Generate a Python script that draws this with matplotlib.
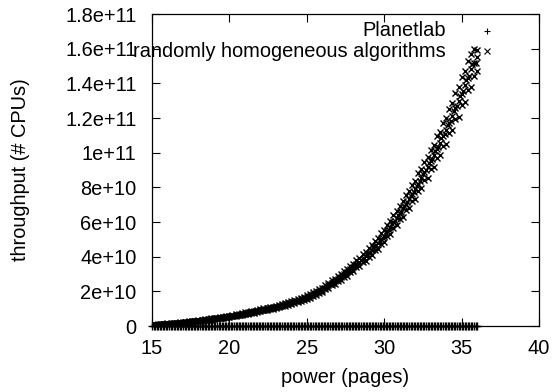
import matplotlib
matplotlib.use("Agg")
import matplotlib.pyplot as plt
from matplotlib.ticker import FuncFormatter

# data (throughput in units of 1e10)
power = [15.0, 15.2, 15.4, 15.6, 15.8, 16.0, 16.2, 16.4, 16.6, 16.8,
         17.0, 17.2, 17.4, 17.6, 17.8, 18.0, 18.2, 18.4, 18.6, 18.8,
         19.0, 19.2, 19.4, 19.6, 19.8, 20.0, 20.2, 20.4, 20.6, 20.8,
         21.0, 21.2, 21.4, 21.6, 21.8, 22.0, 22.2, 22.4, 22.6, 22.8,
         23.0, 23.2, 23.4, 23.6, 23.8, 24.0, 24.2, 24.4, 24.6, 24.8,
         25.0, 25.2, 25.4, 25.6, 25.8, 26.0, 26.2, 26.4, 26.6, 26.8,
         27.0, 27.2, 27.4, 27.6, 27.8, 28.0, 28.2, 28.4, 28.6, 28.8,
         29.0, 29.2, 29.4, 29.6, 29.8, 30.0, 30.2, 30.4, 30.6, 30.8,
         31.0, 31.2, 31.4, 31.6, 31.8, 32.0, 32.2, 32.4, 32.6, 32.8,
         33.0, 33.2, 33.4, 33.6, 33.8, 34.0, 34.2, 34.4, 34.6, 34.8,
         35.0, 35.2, 35.4, 35.6, 35.8, 36.0]

power_half = [15.1, 15.3, 15.5, 15.7, 15.9, 16.1, 16.3, 16.5, 16.7, 16.9,
              17.1, 17.3, 17.5, 17.7, 17.9, 18.1, 18.3, 18.5, 18.7, 18.9,
              19.1, 19.3, 19.5, 19.7, 19.9, 20.1, 20.3, 20.5, 20.7, 20.9,
              21.1, 21.3, 21.5, 21.7, 21.9, 22.1, 22.3, 22.5, 22.7, 22.9,
              23.1, 23.3, 23.5, 23.7, 23.9, 24.1, 24.3, 24.5, 24.7, 24.9,
              25.1, 25.3, 25.5, 25.7, 25.9, 26.1, 26.3, 26.5, 26.7, 26.9,
              27.1, 27.3, 27.5, 27.7, 27.9, 28.1, 28.3, 28.5, 28.7, 28.9,
              29.1, 29.3, 29.5, 29.7, 29.9, 30.1, 30.3, 30.5, 30.7, 30.9,
              31.1, 31.3, 31.5, 31.7, 31.9, 32.1, 32.3, 32.5, 32.7, 32.9,
              33.1, 33.3, 33.5, 33.7, 33.9, 34.1, 34.3, 34.5, 34.7, 34.9,
              35.1, 35.3, 35.5, 35.7, 35.9]

homog_mid = [0.05, 0.065, 0.08, 0.09, 0.105, 0.12, 0.135, 0.15, 0.165, 0.18,
             0.20, 0.22, 0.24, 0.26, 0.28, 0.30, 0.32, 0.35, 0.37, 0.40,
             0.42, 0.45, 0.47, 0.50, 0.52, 0.55, 0.58, 0.62, 0.65, 0.68,
             0.72, 0.75, 0.79, 0.82, 0.86, 0.90, 0.94, 0.98, 1.02, 1.06,
             1.10, 1.15, 1.20, 1.25, 1.30, 1.35, 1.41, 1.47, 1.53, 1.59,
             1.65, 1.74, 1.83, 1.92, 2.01, 2.10, 2.22, 2.34, 2.46, 2.58,
             2.70, 2.84, 2.98, 3.12, 3.26, 3.40, 3.56, 3.72, 3.88, 4.04,
             4.20, 4.40, 4.60, 4.80, 5.00, 5.20, 5.46, 5.72, 5.98, 6.24,
             6.50, 6.78, 7.06, 7.34, 7.62, 7.90, 8.22, 8.54, 8.86, 9.18,
             9.50, 9.86, 10.22, 10.58, 10.94, 11.30, 11.72, 12.14, 12.56, 12.98,
             13.40, 13.90, 14.30, 14.80, 15.20, 15.50]

homog_hi = [0.07, 0.08, 0.11, 0.11, 0.13, 0.15, 0.16, 0.18, 0.20, 0.21,
            0.23, 0.25, 0.27, 0.30, 0.31, 0.34, 0.35, 0.39, 0.40, 0.44,
            0.45, 0.49, 0.51, 0.54, 0.56, 0.60, 0.62, 0.67, 0.69, 0.73,
            0.78, 0.80, 0.85, 0.87, 0.93, 0.96, 1.01, 1.04, 1.10, 1.12,
            1.18, 1.22, 1.29, 1.32, 1.39, 1.43, 1.51, 1.55, 1.64, 1.68,
            1.77, 1.84, 1.96, 2.03, 2.15, 2.22, 2.37, 2.48, 2.63, 2.73,
            2.89, 3.01, 3.19, 3.30, 3.49, 3.60, 3.81, 3.94, 4.15, 4.28,
            4.49, 4.66, 4.92, 5.09, 5.35, 5.51, 5.84, 6.06, 6.40, 6.61,
            6.95, 7.19, 7.55, 7.78, 8.15, 8.37, 8.80, 9.05, 9.48, 9.73,
            10.17, 10.45, 10.94, 11.21, 11.71, 11.98, 12.54, 12.87, 13.44, 13.76,
            14.34, 14.73, 15.30, 15.69, 16.00, 15.90]

homog_lo = [0.03, 0.05, 0.06, 0.07, 0.09, 0.10, 0.11, 0.13, 0.14, 0.16,
            0.18, 0.19, 0.22, 0.23, 0.26, 0.27, 0.30, 0.32, 0.35, 0.37,
            0.40, 0.42, 0.44, 0.47, 0.49, 0.51, 0.55, 0.58, 0.62, 0.64,
            0.68, 0.70, 0.75, 0.77, 0.82, 0.84, 0.90, 0.92, 0.97, 0.99,
            1.05, 1.08, 1.14, 1.17, 1.24, 1.26, 1.34, 1.37, 1.45, 1.48,
            1.57, 1.62, 1.74, 1.79, 1.91, 1.96, 2.11, 2.18, 2.34, 2.40,
            2.57, 2.64, 2.83, 2.90, 3.10, 3.16, 3.38, 3.46, 3.69, 3.76,
            3.99, 4.09, 4.37, 4.46, 4.75, 4.84, 5.19, 5.32, 5.68, 5.80,
            6.18, 6.31, 6.71, 6.83, 7.24, 7.35, 7.81, 7.94, 8.42, 8.54,
            9.03, 9.17, 9.71, 9.84, 10.39, 10.51, 11.13, 11.29, 11.93, 12.07,
            12.73, 12.93, 13.59, 13.76, 14.44, 14.70]

homog_half = [0.06, 0.07, 0.09, 0.10, 0.11, 0.13, 0.14, 0.16, 0.17, 0.19,
              0.21, 0.23, 0.25, 0.27, 0.29, 0.31, 0.34, 0.36, 0.39, 0.41,
              0.44, 0.46, 0.49, 0.51, 0.54, 0.57, 0.60, 0.64, 0.66, 0.71,
              0.73, 0.78, 0.80, 0.85, 0.87, 0.93, 0.95, 1.01, 1.03, 1.09,
              1.12, 1.18, 1.22, 1.28, 1.32, 1.39, 1.43, 1.51, 1.55, 1.63,
              1.68, 1.80, 1.86, 1.98, 2.03, 2.18, 2.26, 2.42, 2.50, 2.66,
              2.75, 2.93, 3.03, 3.21, 3.31, 3.50, 3.62, 3.82, 3.94, 4.15,
              4.28, 4.53, 4.67, 4.93, 5.06, 5.36, 5.56, 5.88, 6.05, 6.40,
              6.60, 6.95, 7.16, 7.52, 7.72, 8.10, 8.35, 8.75, 8.98, 9.40,
              9.62, 10.10, 10.35, 10.82, 11.05, 11.58, 11.85, 12.40, 12.70, 13.28,
              13.55, 14.20, 14.45, 15.10, 15.20]

# Planetlab stays at zero over the whole range
planetlab_y = [0.0] * len(power)
planetlab_y_half = [0.0] * len(power_half)

UNIT = 1e10

plt.rcParams['font.family'] = ['Liberation Sans', 'DejaVu Sans']
plt.rcParams['font.size'] = 14.4

fig = plt.figure(figsize=(5.54, 3.92), dpi=100)
ax = fig.add_axes([152/554, 66/392, 387/554, 312/392])

# planetlab
px = power + power_half
py = [v * UNIT for v in planetlab_y + planetlab_y_half]
ax.plot(px, py, linestyle='none', marker='+', color='black',
        markersize=5.5, markeredgewidth=1.0, clip_on=False)

# randomly homogeneous
hx = power + power + power + power_half
hy = [v * UNIT for v in homog_mid + homog_hi + homog_lo + homog_half]
ax.plot(hx, hy, linestyle='none', marker='x', color='black',
        markersize=5, markeredgewidth=1.0)

ax.set_xlim(15, 40)
ax.set_ylim(0, 1.8e11)
ax.set_xticks([15, 20, 25, 30, 35, 40])
ax.set_yticks([i * 2e10 for i in range(10)])
ax.yaxis.set_major_formatter(FuncFormatter(lambda v, p: '%g' % v))
ax.tick_params(direction='in', top=True, right=True, length=6, width=0.8)
ax.tick_params(axis='y', pad=11)
ax.tick_params(axis='x', pad=9)
for s in ax.spines.values():
    s.set_linewidth(0.9)

ax.set_xlabel('power (pages)')
ax.set_ylabel('throughput (# CPUs)')
ax.xaxis.set_label_coords(0.5, -0.135)
ax.yaxis.set_label_coords(-0.315, 0.5)

# gnuplot style key: text right aligned, sample to the right
ax.text(0.76, 0.946, 'Planetlab', transform=ax.transAxes, ha='right', va='center')
ax.text(0.76, 0.881, 'randomly homogeneous algorithms', transform=ax.transAxes,
        ha='right', va='center')
ax.plot([0.866], [0.946], transform=ax.transAxes, marker='+', color='black',
        markersize=5, markeredgewidth=0.8, linestyle='none')
ax.plot([0.866], [0.881], transform=ax.transAxes, marker='x', color='black',
        markersize=4.5, markeredgewidth=0.8, linestyle='none')

fig.savefig('out.png', dpi=100)
